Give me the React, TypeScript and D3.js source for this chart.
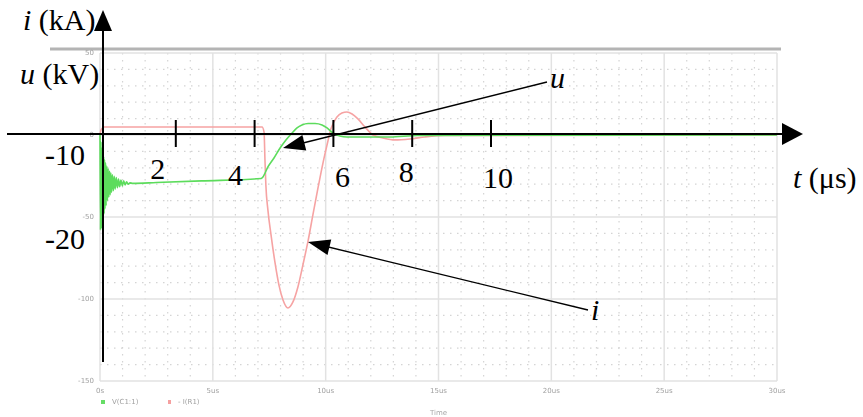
import React from "react";
import * as d3 from "d3";

const W = 863;
const H = 417;

// Background simulation plot: time grid (µs) and value grid
const timeGridUs = [0, 5, 10, 15, 20, 25, 30];
const timeGridLabels = ["0s", "5us", "10us", "15us", "20us", "25us", "30us"];
const valueGrid = [50, 0, -50, -100, -150];
const valueGridLabels = ["50", "0", "-50", "-100", "-150"];
const legendLabels = ["V(C1:1)", "- I(R1)"];

// Voltage trace u: [time µs, value]
const voltageTrace: [number, number][] = [
  [0, 0], [0.02, -58], [0.04, -4], [0.06, -57], [0.08, -8], [0.1, -55],
  [0.12, -10], [0.14, -52], [0.16, -13], [0.18, -48], [0.2, -15], [0.22, -45],
  [0.245, -17], [0.27, -43], [0.3, -19], [0.33, -40], [0.36, -20.5], [0.39, -38],
  [0.42, -22], [0.45, -36.5], [0.48, -23], [0.51, -35], [0.55, -24.2], [0.59, -34],
  [0.63, -25.2], [0.67, -33], [0.72, -26], [0.77, -32.2], [0.82, -26.8], [0.87, -31.6],
  [0.93, -27.5], [0.99, -31], [1.05, -28], [1.11, -30.4], [1.18, -28.6], [1.25, -30],
  [1.33, -29.2], [1.45, -29.5], [2.5, -29], [4.5, -28], [7.15, -26.5],
  [7.22, -25.6], [7.44, -19.5], [7.71, -14], [7.98, -7.9], [8.24, -3], [8.51, 1.2],
  [8.73, 4.3], [8.95, 6.1], [9.22, 7], [9.53, 7], [9.84, 6.1], [10.06, 4.3],
  [10.32, 1.2], [10.63, -0.6], [10.94, -1.2], [12.85, -1.2], [14.05, -0.3], [30, 0],
];

// Current trace i: [time µs, value]
const currentTrace: [number, number][] = [
  [0, 0], [0.04, 3], [0.18, 4.9], [7.18, 4.9], [7.27, 1.8], [7.31, -15.2],
  [7.35, -30.5], [7.44, -45.7], [7.58, -61], [7.75, -77.4], [7.93, -91.5],
  [8.11, -100.6], [8.33, -105.5], [8.55, -101.8], [8.77, -92.7], [8.99, -79.3],
  [9.22, -64.6], [9.44, -48.2], [9.66, -32.3], [9.88, -17.1], [10.06, -6.1],
  [10.23, 3.7], [10.5, 11], [10.72, 13.4], [10.94, 14], [11.17, 12.8], [11.43, 9.8],
  [11.74, 4.9], [12.1, 0], [12.54, -1.8], [13.07, -3], [13.74, -2.4], [14.4, -1.2],
  [15.29, -0.3], [30, 0],
];

// Annotated axes drawn on top
const overlayTicks = [2, 4, 6, 8, 10];
const overlayTickLabels = ["2", "4", "6", "8", "10"];
const levelLabels = ["-10", "-20"];

const SERIF = "'Liberation Serif', 'Times New Roman', serif";
const SANS = "'DejaVu Sans', sans-serif";

function arrowHead(tip: [number, number], from: [number, number], len = 22, half = 8) {
  const a = Math.atan2(from[1] - tip[1], from[0] - tip[0]);
  const bx = tip[0] + len * Math.cos(a);
  const by = tip[1] + len * Math.sin(a);
  const px = -Math.sin(a) * half;
  const py = Math.cos(a) * half;
  return `${tip[0]},${tip[1]} ${bx + px},${by + py} ${bx - px},${by - py}`;
}

export default function App() {
  const x = d3.scaleLinear().domain([0, 30]).range([100, 777]);
  const y = d3.scaleLinear().domain([-150, 50]).range([381, 53]);
  const tx = d3.scaleLinear().domain([0, 10]).range([97, 491]);

  const line = d3
    .line<[number, number]>()
    .x((d) => x(d[0]))
    .y((d) => y(d[1]))
    .curve(d3.curveMonotoneX);

  const minorT = d3.range(1, 30).filter((t) => t % 5 !== 0);
  const minorV = d3.range(-140, 50, 10).filter((v) => v % 50 !== 0);

  const axisY = 134;
  const axisX = 103;

  // tick label offsets relative to each tick (dx, baseline)
  const tickLabelPos: [number, number][] = [
    [-18, 179], [-19, 185], [9, 187], [-6, 182], [7, 188],
  ];

  const uArrow = { tip: [283, 148] as [number, number], from: [547, 82] as [number, number] };
  const iArrow = { tip: [308, 242] as [number, number], from: [588, 310] as [number, number] };

  return (
    <svg
      width={W}
      height={H}
      style={{ position: "absolute", left: 0, top: 0, background: "#fff" }}
      fontFamily={SERIF}
    >
      <defs>
        <filter id="soft" x="-5%" y="-5%" width="110%" height="110%">
          <feGaussianBlur stdDeviation="0.6" />
        </filter>
      </defs>

      {/* simulation plot */}
      <g filter="url(#soft)">
        <line x1={50} x2={781} y1={49} y2={49} stroke="#b4b4b4" strokeWidth={3} />
        {minorT.map((t) => (
          <line key={"mt" + t} x1={x(t)} x2={x(t)} y1={y(50)} y2={y(-150)}
            stroke="#d4d4d4" strokeWidth={1.2} strokeDasharray="1.5 5.5" />
        ))}
        {minorV.map((v) => (
          <line key={"mv" + v} x1={x(0)} x2={x(30)} y1={y(v)} y2={y(v)}
            stroke="#d4d4d4" strokeWidth={1.2} strokeDasharray="1.5 5.5" />
        ))}
        {timeGridUs.map((t) => (
          <line key={"gt" + t} x1={x(t)} x2={x(t)} y1={y(50)} y2={y(-150)}
            stroke="#e2e2e2" strokeWidth={1.5} />
        ))}
        {valueGrid.map((v) => (
          <line key={"gv" + v} x1={x(0)} x2={x(30)} y1={y(v)} y2={y(v)}
            stroke="#e2e2e2" strokeWidth={1.5} />
        ))}
        {valueGrid.map((v, k) => (
          <text key={"lv" + v} x={94} y={y(v)} dy="0.35em" textAnchor="end"
            fontFamily={SANS} fontSize={7} fill="#a0a0a0">{valueGridLabels[k]}</text>
        ))}
        {timeGridUs.map((t, k) => (
          <text key={"lt" + t} x={x(t)} y={391} dy="0.35em" textAnchor="middle"
            fontFamily={SANS} fontSize={7} fill="#a0a0a0">{timeGridLabels[k]}</text>
        ))}
        <text x={x(15)} y={413} dy="0.35em" textAnchor="middle" fontFamily={SANS}
          fontSize={7} fill="#a8a8a8">Time</text>
        <rect x={101} y={400} width={4} height={4} fill="#66dd66" />
        <text x={112} y={402} dy="0.35em" fontFamily={SANS} fontSize={7} fill="#a0a0a0">{legendLabels[0]}</text>
        <rect x={168} y={400} width={3} height={4} fill="#f5a0a0" />
        <text x={178} y={402} dy="0.35em" fontFamily={SANS} fontSize={7} fill="#a0a0a0">{legendLabels[1]}</text>

        <path d={line(currentTrace) ?? ""} fill="none" stroke="#f6a3a3" strokeWidth={1.6} />
        <path d={line(voltageTrace) ?? ""} fill="none" stroke="#5cdc5c" strokeWidth={1.6} />
      </g>

      {/* annotated axes */}
      <line x1={7} x2={785} y1={axisY} y2={axisY} stroke="#000" strokeWidth={2} />
      <polygon points={`803,${axisY} 782,${axisY - 11} 782,${axisY + 11}`} fill="#000" />
      <line x1={axisX} x2={axisX} y1={28} y2={362} stroke="#000" strokeWidth={2} />
      <polygon points={`${axisX},10 ${axisX - 9},31 ${axisX + 9},31`} fill="#000" />

      {overlayTicks.map((t, k) => (
        <g key={"ot" + t}>
          <line x1={tx(t)} x2={tx(t)} y1={axisY - 14} y2={axisY + 13} stroke="#000" strokeWidth={2} />
          <text x={tx(t) + tickLabelPos[k][0]} y={tickLabelPos[k][1]} textAnchor="middle"
            fontSize={30} fill="#000">{overlayTickLabels[k]}</text>
        </g>
      ))}

      <text x={45} y={165} fontSize={30}>{levelLabels[0]}</text>
      <text x={45} y={249} fontSize={30}>{levelLabels[1]}</text>

      <text x={23} y={30} fontSize={30}>
        <tspan fontStyle="italic">i</tspan> (kA)
      </text>
      <text x={20} y={84} fontSize={30}>
        <tspan fontStyle="italic">u</tspan> (kV)
      </text>
      <text x={793} y={188} fontSize={30}>
        <tspan fontStyle="italic">t</tspan> (μs)
      </text>

      <line x1={uArrow.from[0]} y1={uArrow.from[1]} x2={uArrow.tip[0] + 10} y2={uArrow.tip[1] - 2.5}
        stroke="#000" strokeWidth={1.3} />
      <polygon points={arrowHead(uArrow.tip, uArrow.from)} fill="#000" />
      <text x={550} y={88} fontSize={30} fontStyle="italic">u</text>

      <line x1={iArrow.from[0]} y1={iArrow.from[1]} x2={iArrow.tip[0] + 10} y2={iArrow.tip[1] + 2.5}
        stroke="#000" strokeWidth={1.3} />
      <polygon points={arrowHead(iArrow.tip, iArrow.from)} fill="#000" />
      <text x={591} y={320} fontSize={30} fontStyle="italic">i</text>
    </svg>
  );
}
